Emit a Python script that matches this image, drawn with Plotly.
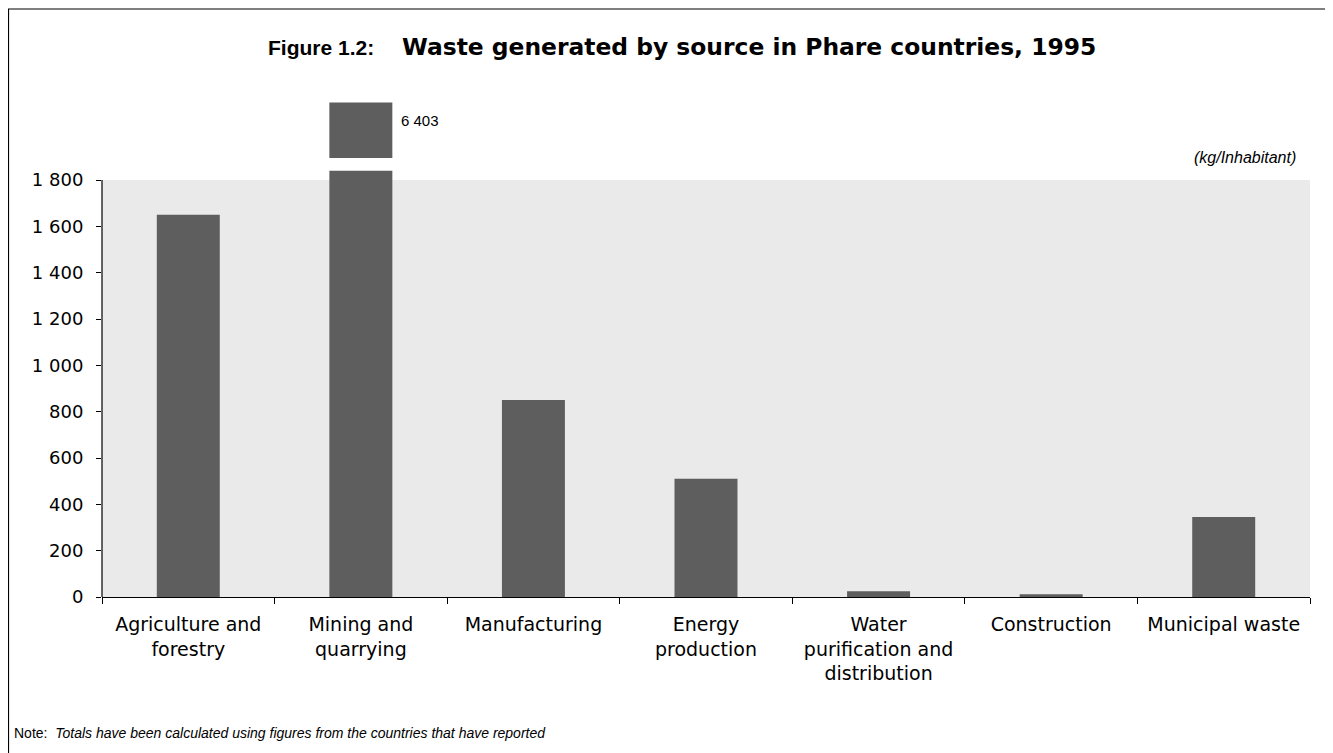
import plotly.graph_objects as go

categories = ["Agriculture and<br>forestry", "Mining and<br>quarrying", "Manufacturing",
              "Energy<br>production", "Water<br>purification and<br>distribution",
              "Construction", "Municipal waste"]
values = [1650, 6403, 850, 510, 25, 12, 345]
tick_vals = [0, 200, 400, 600, 800, 1000, 1200, 1400, 1600, 1800]
tick_text = ["0", "200", "400", "600", "800", "1 000", "1 200", "1 400", "1 600", "1 800"]

AXIS_MAX = 1800
CAP = 1840          # drawn height of a broken (off-scale) bar
BREAK_BASE = 1895   # base of the detached block for off-scale values
BREAK_H = 240

bar_color = "#5e5e5e"
font = "Liberation Sans, Arial, sans-serif"
wide = "DejaVu Sans, Liberation Sans, sans-serif"

shown = [min(v, CAP) for v in values]
broken_x = [c for c, v in zip(categories, values) if v > AXIS_MAX]
broken_v = [v for v in values if v > AXIS_MAX]

fig = go.Figure()
fig.add_trace(go.Bar(x=categories, y=shown, width=0.365, marker_color=bar_color,
                     marker_line_width=0, hoverinfo="skip"))
fig.add_trace(go.Bar(x=broken_x, y=[BREAK_H] * len(broken_x), base=[BREAK_BASE] * len(broken_x),
                     width=0.365, marker_color=bar_color, marker_line_width=0, hoverinfo="skip"))

for c, v in zip(broken_x, broken_v):
    fig.add_annotation(x=c, y=BREAK_BASE + BREAK_H * 0.68, xref="x", yref="y",
                       text=f"{v:,}".replace(",", " "), showarrow=False,
                       xanchor="left", xshift=38, font=dict(size=15, color="#000", family=font))

# shaded plotting area (0..1800) and y axis line
fig.add_shape(type="rect", xref="paper", yref="y", x0=0, x1=1, y0=0, y1=AXIS_MAX,
              fillcolor="#eaeaea", line_width=0, layer="below")
fig.add_shape(type="line", xref="paper", yref="y", x0=0, x1=0, y0=0, y1=AXIS_MAX,
              line=dict(color="#000", width=1.2))
# outer frame
fig.add_shape(type="rect", xref="paper", yref="paper", x0=-0.0774, x1=1.05, y0=-0.45, y1=1.1807,
              line=dict(color="#000", width=1.2), fillcolor="rgba(0,0,0,0)")

fig.add_annotation(xref="paper", yref="paper", x=0.2268, y=1.1044, xanchor="right", yanchor="middle",
                   text="<b>Figure 1.2:</b>", showarrow=False,
                   font=dict(size=21, color="#000", family=font))
fig.add_annotation(xref="paper", yref="paper", x=0.2467, y=1.1044, xanchor="left", yanchor="middle",
                   text="<b>Waste generated by source in Phare countries, 1995</b>", showarrow=False,
                   font=dict(size=23.4, color="#000", family=wide))
fig.add_annotation(xref="paper", yref="paper", x=0.990, y=0.8835, xanchor="right", yanchor="middle",
                   text="<i>(kg/Inhabitant)</i>", showarrow=False,
                   font=dict(size=16, color="#000", family=font))
fig.add_annotation(xref="paper", yref="paper", x=-0.0745, y=-0.273, xanchor="left", yanchor="middle",
                   text="Note:  <i>Totals have been calculated using figures from the countries that have reported</i>",
                   showarrow=False, font=dict(size=14, color="#000", family=font))

fig.update_layout(
    width=1325, height=745,
    margin=dict(l=94, r=23, t=91, b=156),
    paper_bgcolor="white", plot_bgcolor="white",
    showlegend=False, barmode="overlay",
    font=dict(family=wide, size=18, color="#000"),
)
fig.update_xaxes(showline=True, linecolor="#000", linewidth=1.2, ticks="outside",
                 tickson="boundaries", ticklen=6, tickcolor="#000", showgrid=False,
                 tickfont=dict(size=19, family=wide), range=[-0.5, 6.5], ticklabelstandoff=10)
fig.update_yaxes(range=[0, 2150], tickvals=tick_vals, ticktext=tick_text, ticks="outside",
                 ticklen=5, tickcolor="#000", showgrid=False, zeroline=False, showline=False,
                 tickfont=dict(size=18, family=wide), ticklabelstandoff=9)

fig.write_html("out.html")
